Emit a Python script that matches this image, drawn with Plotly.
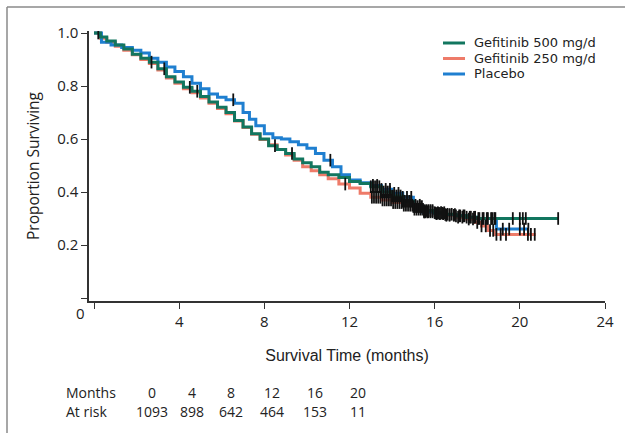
import numpy as np
import plotly.graph_objects as go

# ---------------- data ----------------
g500_t = [0, 0.3, 0.6, 1.0, 1.4, 1.8, 2.2, 2.6, 3.0, 3.4, 3.8, 4.2, 4.6, 5.0, 5.4, 5.8, 6.2, 6.6,
          7.0, 7.4, 7.8, 8.2, 8.6, 9.0, 9.4, 9.8, 10.2, 10.6, 11.0, 11.5, 12.0, 12.5, 13.0, 13.5,
          14.0, 14.5, 15.0, 15.5, 16.0, 16.5, 17.0, 17.5, 18.0]
g500_s = [1.0, 0.985, 0.97, 0.955, 0.94, 0.92, 0.905, 0.89, 0.865, 0.835, 0.815, 0.795, 0.78, 0.76,
          0.74, 0.72, 0.70, 0.67, 0.645, 0.62, 0.60, 0.575, 0.56, 0.545, 0.525, 0.51, 0.495, 0.475,
          0.465, 0.455, 0.44, 0.432, 0.42, 0.40, 0.385, 0.365, 0.345, 0.33, 0.322, 0.316, 0.31,
          0.305, 0.30]
g500_end = 21.8
g500_cens = [0.2, 2.7, 3.3, 4.5, 4.85, 8.5, 9.3, 13.0, 13.1, 13.2, 13.3, 13.4, 13.5, 13.6, 13.7,
             13.8, 13.9, 14.0, 14.1, 14.2, 14.3, 14.4, 14.5, 14.6, 14.7, 14.8, 14.9, 15.0, 15.1,
             15.2, 15.3, 15.4, 15.5, 15.6, 15.7, 15.8, 15.9, 16.0, 16.15, 16.3, 16.45, 16.6, 16.8,
             17.0, 17.2, 17.35, 17.5, 17.7, 17.9, 18.1, 18.3, 18.5, 18.7, 18.85, 19.67, 20.0,
             20.14, 20.28, 21.8]

g250_t = [0, 0.3, 0.6, 1.0, 1.4, 1.8, 2.2, 2.6, 3.0, 3.4, 3.8, 4.2, 4.6, 5.0, 5.4, 5.8, 6.2, 6.6,
          7.0, 7.4, 7.8, 8.2, 8.6, 9.0, 9.4, 9.8, 10.2, 10.6, 11.0, 11.5, 12.0, 12.5, 13.0, 13.5,
          14.0, 14.5, 15.0, 15.5, 16.0, 16.5, 17.0, 17.5, 17.9, 18.2, 18.5, 18.8]
g250_s = [1.0, 0.98, 0.965, 0.95, 0.935, 0.918, 0.90, 0.885, 0.86, 0.83, 0.81, 0.79, 0.775, 0.755,
          0.735, 0.715, 0.695, 0.668, 0.643, 0.618, 0.598, 0.578, 0.56, 0.54, 0.52, 0.495, 0.48,
          0.465, 0.45, 0.43, 0.415, 0.395, 0.38, 0.37, 0.36, 0.35, 0.335, 0.325, 0.318, 0.312,
          0.305, 0.298, 0.285, 0.272, 0.255, 0.24]
g250_end = 20.75
g250_cens = [11.8, 13.05, 13.15, 13.25, 13.35, 13.45, 13.55, 13.65, 13.75, 13.85, 13.95, 14.05,
             14.15, 14.25, 14.35, 14.45, 14.55, 14.65, 14.75, 14.85, 14.95, 15.05, 15.15, 15.25,
             15.35, 15.45, 15.55, 15.7, 15.9, 16.1, 16.25, 16.4, 16.55, 16.7, 16.9, 17.1, 17.3,
             17.6, 17.8, 18.0, 18.2, 18.4, 18.6, 18.75, 18.9, 19.1, 19.35, 20.38, 20.52, 20.7]

plc_t = [0, 0.35, 0.8, 1.3, 1.8, 2.2, 2.6, 3.0, 3.4, 3.8, 4.2, 4.6, 5.0, 5.4, 5.8, 6.2, 6.6, 7.0,
         7.3, 7.6, 8.0, 8.4, 8.8, 9.2, 9.6, 10.0, 10.4, 10.8, 11.2, 11.6, 12.0, 12.5, 13.0, 13.5,
         14.0, 14.5, 15.0, 15.4, 16.0, 16.5, 17.0, 17.5, 18.0, 18.9]
plc_s = [1.0, 0.965, 0.955, 0.945, 0.935, 0.925, 0.905, 0.89, 0.872, 0.855, 0.835, 0.81, 0.79,
         0.77, 0.758, 0.748, 0.735, 0.70, 0.675, 0.65, 0.62, 0.605, 0.60, 0.59, 0.578, 0.565,
         0.545, 0.52, 0.495, 0.465, 0.445, 0.435, 0.425, 0.41, 0.395, 0.38, 0.35, 0.325, 0.32,
         0.315, 0.31, 0.305, 0.30, 0.26]
plc_end = 20.4
plc_cens = [6.54, 11.1, 13.1, 13.3, 13.5, 13.7, 13.9, 14.1, 14.3, 14.5, 14.7, 14.9, 15.1, 15.3,
            15.5, 15.65, 15.8, 16.05, 16.2, 16.35, 16.5, 16.7, 16.95, 17.15, 17.4, 17.65, 17.85,
            18.05, 18.25, 18.45, 18.65, 18.8, 19.2, 19.5, 20.0, 20.2, 20.4]

names = ["Gefitinib 500 mg/d", "Gefitinib 250 mg/d", "Placebo"]
colors = ["#12765f", "#ee7b69", "#1f7fd0"]

x_ticks = [0, 4, 8, 12, 16, 20, 24]
y_ticks = [0, 0.2, 0.4, 0.6, 0.8, 1.0]
y_tick_labels = ["", "0.2", "0.4", "0.6", "0.8", "1.0"]

risk_months = ["0", "4", "8", "12", "16", "20"]
risk_counts = ["1093", "898", "642", "464", "153", "11"]

# ---------------- layout helpers (pixel -> paper) ----------------
L, R, T, B = 89, 605, 31, 301
W, H = 625, 434


def px(x):
    return (x - L) / (R - L)


def py(y):
    return (B - y) / (B - T)


def step_at(times, surv, t):
    i = np.searchsorted(np.asarray(times), t, side="right") - 1
    return np.asarray(surv)[max(i, 0)]


fig = go.Figure()

groups = [
    (g500_t, g500_s, g500_end, g500_cens, 0),
    (g250_t, g250_s, g250_end, g250_cens, 1),
    (plc_t, plc_s, plc_end, plc_cens, 2),
]
draw_order = [1, 2, 0]
for k in draw_order:
    t, s, e, c, idx = groups[k]
    fig.add_trace(go.Scatter(
        x=list(t) + [e], y=list(s) + [s[-1]], mode="lines", line_shape="hv",
        line=dict(color=colors[idx], width=3), name=names[idx], showlegend=False,
    ))
for k in draw_order:
    t, s, e, c, idx = groups[k]
    fig.add_trace(go.Scatter(
        x=c, y=[step_at(t, s, v) for v in c], mode="markers", showlegend=False,
        marker=dict(symbol="line-ns", size=9, line=dict(color="#111111", width=1.8)),
        hoverinfo="skip",
    ))

font_main = "Open Sans, Liberation Sans, Arial, sans-serif"

fig.update_layout(
    width=W, height=H,
    margin=dict(l=L, r=W - R, t=T, b=H - B, pad=0),
    paper_bgcolor="white", plot_bgcolor="white",
    font=dict(family=font_main, size=14, color="#222222"),
    showlegend=False,
    xaxis=dict(
        range=[-5 / 21.25, 24], tickvals=x_ticks,
        ticktext=[""] + [str(v) for v in x_ticks[1:]],
        showline=True, linecolor="#333333", linewidth=1.5,
        ticks="outside", ticklen=6, tickwidth=1.2, tickcolor="#333333",
        showgrid=False, zeroline=False,
        title=dict(text="Survival Time (months)", font=dict(size=16, family="Liberation Sans, Arial"),
                   standoff=20),
        tickfont=dict(size=15),
    ),
    yaxis=dict(
        range=[-3 / 265, 1.0 + 2 / 265], tickvals=y_ticks, ticktext=y_tick_labels,
        showline=True, linecolor="#333333", linewidth=1.5,
        ticks="outside", ticklen=6, tickwidth=1.2, tickcolor="#333333",
        showgrid=False, zeroline=False,
        title=dict(text="Proportion Surviving", font=dict(size=15.5), standoff=14),
        tickfont=dict(size=15),
    ),
)

annotations = [
    dict(x=px(80), y=py(313), text="0", showarrow=False, xref="paper", yref="paper",
         font=dict(size=15), xanchor="center", yanchor="middle"),
    dict(x=px(64), y=py(392), text="Months", showarrow=False, xref="paper", yref="paper",
         font=dict(size=14), xanchor="left", yanchor="middle"),
    dict(x=px(64), y=py(411), text="At risk", showarrow=False, xref="paper", yref="paper",
         font=dict(size=14), xanchor="left", yanchor="middle"),
]
col_x = [152, 192, 231, 272, 315, 358]
for cx, m, n in zip(col_x, risk_months, risk_counts):
    annotations.append(dict(x=px(cx), y=py(392), text=m, showarrow=False, xref="paper", yref="paper",
                            font=dict(size=14), xanchor="center", yanchor="middle"))
    annotations.append(dict(x=px(cx), y=py(411), text=n, showarrow=False, xref="paper", yref="paper",
                            font=dict(size=14), xanchor="center", yanchor="middle"))

# legend (drawn manually for compact row spacing)
legend_rows = [43, 58.5, 74]
for (ly, nm, col) in zip(legend_rows, names, colors):
    fig.add_shape(type="line", xref="paper", yref="paper", x0=px(443), x1=px(465),
                  y0=py(ly), y1=py(ly), line=dict(color=col, width=3))
    annotations.append(dict(x=px(473), y=py(ly), text=nm, showarrow=False, xref="paper",
                            yref="paper", font=dict(size=13, family="DejaVu Sans"),
                            borderpad=0, xanchor="left", yanchor="middle"))
fig.update_layout(annotations=annotations)

# frame lines (top and left only)
fig.add_shape(type="line", xref="paper", yref="paper", x0=px(7), x1=px(626), y0=py(7), y1=py(7),
              line=dict(color="#8a8a8a", width=1.5))
fig.add_shape(type="line", xref="paper", yref="paper", x0=px(7), x1=px(7), y0=py(7), y1=py(433),
              line=dict(color="#8a8a8a", width=1.5))

fig.write_html("out.html", config={"displayModeBar": False},
               post_script="document.body.style.margin='0px';")
